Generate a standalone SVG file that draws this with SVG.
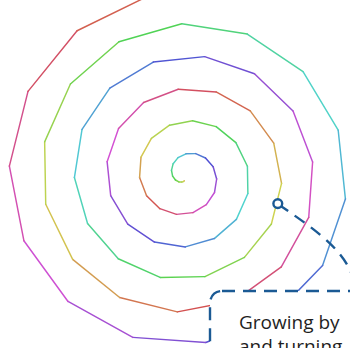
<svg xmlns="http://www.w3.org/2000/svg" width="350" height="348" viewBox="0 0 350 348">
<style>
.sp line{fill:none;stroke-width:1.5;stroke-linecap:round}
.lead{fill:none;stroke:#1b5a94;stroke-width:2.4;stroke-dasharray:12 8}
.box{fill:#fff;stroke:#1b5a94;stroke-width:2.4;stroke-dasharray:13 8}
.ring{fill:#fff;stroke:#1b5a94;stroke-width:2.4}
.txt{font-family:"Open Sans","Liberation Sans",sans-serif;font-size:19px;fill:#1f1f1f}
</style>
<rect width="350" height="348" fill="#fff"/>
<g id="spiral" class="sp" transform="translate(184.3 180.7) scale(0.975) rotate(134)">
<line x2="1" stroke="hsl(47.5,60%,57%)"/><g transform="translate(1) rotate(25)">
<line x2="2" stroke="hsl(65,60%,57%)"/><g transform="translate(2) rotate(25)">
<line x2="3" stroke="hsl(82.5,60%,57%)"/><g transform="translate(3) rotate(25)">
<line x2="4" stroke="hsl(100,60%,57%)"/><g transform="translate(4) rotate(25)">
<line x2="5" stroke="hsl(117.5,60%,57%)"/><g transform="translate(5) rotate(25)">
<line x2="6" stroke="hsl(135,60%,57%)"/><g transform="translate(6) rotate(25)">
<line x2="7" stroke="hsl(152.5,60%,57%)"/><g transform="translate(7) rotate(25)">
<line x2="8" stroke="hsl(170,60%,57%)"/><g transform="translate(8) rotate(25)">
<line x2="9" stroke="hsl(187.5,60%,57%)"/><g transform="translate(9) rotate(25)">
<line x2="10" stroke="hsl(205,60%,57%)"/><g transform="translate(10) rotate(25)">
<line x2="11" stroke="hsl(222.5,60%,57%)"/><g transform="translate(11) rotate(25)">
<line x2="12" stroke="hsl(240,60%,57%)"/><g transform="translate(12) rotate(25)">
<line x2="13" stroke="hsl(257.5,60%,57%)"/><g transform="translate(13) rotate(25)">
<line x2="14" stroke="hsl(275,60%,57%)"/><g transform="translate(14) rotate(25)">
<line x2="15" stroke="hsl(292.5,60%,57%)"/><g transform="translate(15) rotate(25)">
<line x2="16" stroke="hsl(310,60%,57%)"/><g transform="translate(16) rotate(25)">
<line x2="17" stroke="hsl(327.5,60%,57%)"/><g transform="translate(17) rotate(25)">
<line x2="18" stroke="hsl(345,60%,57%)"/><g transform="translate(18) rotate(25)">
<line x2="19" stroke="hsl(2.5,60%,57%)"/><g transform="translate(19) rotate(25)">
<line x2="20" stroke="hsl(20,60%,57%)"/><g transform="translate(20) rotate(25)">
<line x2="21" stroke="hsl(37.5,60%,57%)"/><g transform="translate(21) rotate(25)">
<line x2="22" stroke="hsl(55,60%,57%)"/><g transform="translate(22) rotate(25)">
<line x2="23" stroke="hsl(72.5,60%,57%)"/><g transform="translate(23) rotate(25)">
<line x2="24" stroke="hsl(90,60%,57%)"/><g transform="translate(24) rotate(25)">
<line x2="25" stroke="hsl(107.5,60%,57%)"/><g transform="translate(25) rotate(25)">
<line x2="26" stroke="hsl(125,60%,57%)"/><g transform="translate(26) rotate(25)">
<line x2="27" stroke="hsl(142.5,60%,57%)"/><g transform="translate(27) rotate(25)">
<line x2="28" stroke="hsl(160,60%,57%)"/><g transform="translate(28) rotate(25)">
<line x2="29" stroke="hsl(177.5,60%,57%)"/><g transform="translate(29) rotate(25)">
<line x2="30" stroke="hsl(195,60%,57%)"/><g transform="translate(30) rotate(25)">
<line x2="31" stroke="hsl(212.5,60%,57%)"/><g transform="translate(31) rotate(25)">
<line x2="32" stroke="hsl(230,60%,57%)"/><g transform="translate(32) rotate(25)">
<line x2="33" stroke="hsl(247.5,60%,57%)"/><g transform="translate(33) rotate(25)">
<line x2="34" stroke="hsl(265,60%,57%)"/><g transform="translate(34) rotate(25)">
<line x2="35" stroke="hsl(282.5,60%,57%)"/><g transform="translate(35) rotate(25)">
<line x2="36" stroke="hsl(300,60%,57%)"/><g transform="translate(36) rotate(25)">
<line x2="37" stroke="hsl(317.5,60%,57%)"/><g transform="translate(37) rotate(25)">
<line x2="38" stroke="hsl(335,60%,57%)"/><g transform="translate(38) rotate(25)">
<line x2="39" stroke="hsl(352.5,60%,57%)"/><g transform="translate(39) rotate(25)">
<line x2="40" stroke="hsl(10,60%,57%)"/><g transform="translate(40) rotate(25)">
<line x2="41" stroke="hsl(27.5,60%,57%)"/><g transform="translate(41) rotate(25)">
<line x2="42" stroke="hsl(45,60%,57%)"/><g transform="translate(42) rotate(25)">
<line x2="43" stroke="hsl(62.5,60%,57%)"/><g transform="translate(43) rotate(25)">
<line x2="44" stroke="hsl(80,60%,57%)"/><g transform="translate(44) rotate(25)">
<line x2="45" stroke="hsl(97.5,60%,57%)"/><g transform="translate(45) rotate(25)">
<line x2="46" stroke="hsl(115,60%,57%)"/><g transform="translate(46) rotate(25)">
<line x2="47" stroke="hsl(132.5,60%,57%)"/><g transform="translate(47) rotate(25)">
<line x2="48" stroke="hsl(150,60%,57%)"/><g transform="translate(48) rotate(25)">
<line x2="49" stroke="hsl(167.5,60%,57%)"/><g transform="translate(49) rotate(25)">
<line x2="50" stroke="hsl(185,60%,57%)"/><g transform="translate(50) rotate(25)">
<line x2="51" stroke="hsl(202.5,60%,57%)"/><g transform="translate(51) rotate(25)">
<line x2="52" stroke="hsl(220,60%,57%)"/><g transform="translate(52) rotate(25)">
<line x2="53" stroke="hsl(237.5,60%,57%)"/><g transform="translate(53) rotate(25)">
<line x2="54" stroke="hsl(255,60%,57%)"/><g transform="translate(54) rotate(25)">
<line x2="55" stroke="hsl(272.5,60%,57%)"/><g transform="translate(55) rotate(25)">
<line x2="56" stroke="hsl(290,60%,57%)"/><g transform="translate(56) rotate(25)">
<line x2="57" stroke="hsl(307.5,60%,57%)"/><g transform="translate(57) rotate(25)">
<line x2="58" stroke="hsl(325,60%,57%)"/><g transform="translate(58) rotate(25)">
<line x2="59" stroke="hsl(342.5,60%,57%)"/><g transform="translate(59) rotate(25)">
<line x2="60" stroke="hsl(0,60%,57%)"/><g transform="translate(60) rotate(25)">
<line x2="61" stroke="hsl(17.5,60%,57%)"/><g transform="translate(61) rotate(25)">
<line x2="62" stroke="hsl(35,60%,57%)"/><g transform="translate(62) rotate(25)">
<line x2="63" stroke="hsl(52.5,60%,57%)"/><g transform="translate(63) rotate(25)">
<line x2="64" stroke="hsl(70,60%,57%)"/><g transform="translate(64) rotate(25)">
<line x2="65" stroke="hsl(87.5,60%,57%)"/><g transform="translate(65) rotate(25)">
<line x2="66" stroke="hsl(105,60%,57%)"/><g transform="translate(66) rotate(25)">
<line x2="67" stroke="hsl(122.5,60%,57%)"/><g transform="translate(67) rotate(25)">
<line x2="68" stroke="hsl(140,60%,57%)"/><g transform="translate(68) rotate(25)">
<line x2="69" stroke="hsl(157.5,60%,57%)"/><g transform="translate(69) rotate(25)">
<line x2="70" stroke="hsl(175,60%,57%)"/><g transform="translate(70) rotate(25)">
<line x2="71" stroke="hsl(192.5,60%,57%)"/><g transform="translate(71) rotate(25)">
<line x2="72" stroke="hsl(210,60%,57%)"/><g transform="translate(72) rotate(25)">
<line x2="73" stroke="hsl(227.5,60%,57%)"/><g transform="translate(73) rotate(25)">
<line x2="74" stroke="hsl(245,60%,57%)"/><g transform="translate(74) rotate(25)">
<line x2="75" stroke="hsl(262.5,60%,57%)"/><g transform="translate(75) rotate(25)">
<line x2="76" stroke="hsl(280,60%,57%)"/><g transform="translate(76) rotate(25)">
<line x2="77" stroke="hsl(297.5,60%,57%)"/><g transform="translate(77) rotate(25)">
<line x2="78" stroke="hsl(315,60%,57%)"/><g transform="translate(78) rotate(25)">
<line x2="79" stroke="hsl(332.5,60%,57%)"/><g transform="translate(79) rotate(25)">
<line x2="80" stroke="hsl(350,60%,57%)"/><g transform="translate(80) rotate(25)">
<line x2="81" stroke="hsl(7.5,60%,57%)"/>
</g></g></g></g></g></g></g></g></g></g>
</g></g></g></g></g></g></g></g></g></g>
</g></g></g></g></g></g></g></g></g></g>
</g></g></g></g></g></g></g></g></g></g>
</g></g></g></g></g></g></g></g></g></g>
</g></g></g></g></g></g></g></g></g></g>
</g></g></g></g></g></g></g></g></g></g>
</g></g></g></g></g></g></g></g></g></g>
</g>
<g id="callout">
<path class="lead" stroke-dashoffset="4" d="M281.5 206.5 C320 233 352 255 356 291"/>
<circle class="ring" cx="277.8" cy="203.6" r="4.4"/>
<rect class="box" x="210" y="291" width="170" height="100" rx="12"/>
<text class="txt" x="239" y="329">Growing by</text>
<text class="txt" x="239" y="353">and turning</text>
</g>
</svg>
